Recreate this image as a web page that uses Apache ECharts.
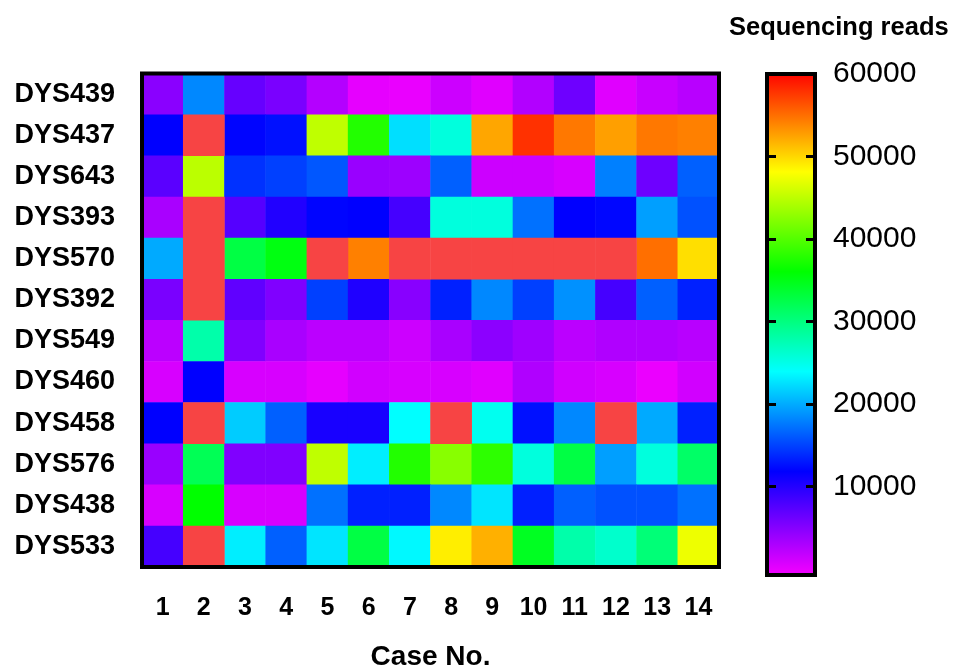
<!DOCTYPE html>
<html>
<head>
<meta charset="utf-8">
<script src="https://cdn.jsdelivr.net/npm/echarts@6/dist/echarts.min.js"></script>
<style>
  html, body { margin: 0; padding: 0; background: #fff; }
  #chart { width: 963px; height: 669px; }
</style>
</head>
<body>
<div id="chart"></div>
<script>
// ---- data ----
const cases = ['1','2','3','4','5','6','7','8','9','10','11','12','13','14'];
const markers = ['DYS439','DYS437','DYS643','DYS393','DYS570','DYS392','DYS549','DYS460','DYS458','DYS576','DYS438','DYS533'];
// sequencing reads per marker (rows) and case (columns); values above 60000 are off-scale
const readsDYS439 = [5000, 18400, 6800, 5800, 2850, 300, 100, 1630, 610, 2950, 6400, 610, 1830, 2640];
const readsDYS437 = [12000, 65000, 12200, 12750, 45000, 37600, 22500, 25600, 52200, 57700, 54350, 52500, 54350, 54000];
const readsDYS643 = [7400, 44800, 14300, 15000, 16100, 4200, 4000, 16500, 1630, 1630, 1080, 18000, 6400, 16500];
const readsDYS393 = [3400, 65000, 7700, 10300, 12200, 12000, 8500, 25600, 25600, 17300, 12000, 12300, 19500, 15800];
const readsDYS570 = [20000, 65000, 32800, 35200, 65000, 54000, 65000, 65000, 65000, 65000, 65000, 65000, 54800, 49500];
const readsDYS392 = [5800, 65000, 7100, 5500, 15000, 10400, 5100, 13500, 18400, 15000, 18800, 8500, 16500, 13500];
const readsDYS549 = [2500, 28000, 5500, 3400, 2500, 2500, 1630, 3400, 4900, 3900, 2500, 3050, 3050, 2640];
const readsDYS460 = [1080, 12000, 1080, 1080, 300, 1370, 1080, 1080, 600, 3050, 1420, 1080, 50, 1370];
const readsDYS458 = [12000, 65000, 21600, 16500, 10800, 10800, 24000, 65000, 24700, 12750, 18400, 65000, 20000, 13500];
const readsDYS576 = [4200, 32000, 5500, 5500, 45000, 23200, 37600, 42400, 38100, 25600, 32800, 19500, 25600, 31200];
const readsDYS438 = [1080, 36000, 1080, 1080, 17300, 13500, 13500, 18400, 22800, 13500, 16500, 15800, 15800, 17300];
const readsDYS533 = [8500, 65000, 23200, 16500, 22800, 32800, 23700, 48800, 51700, 34400, 28000, 26400, 30400, 47200];
const readsByMarker = [readsDYS439, readsDYS437, readsDYS643, readsDYS393, readsDYS570, readsDYS392,
                       readsDYS549, readsDYS460, readsDYS458, readsDYS576, readsDYS438, readsDYS533];
const scaleMin = 0;
const scaleMax = 60000;
const colorbarMin = -700;
const colorbarLabelValues = [10000, 20000, 30000, 40000, 50000, 60000];
const colorbarTickValues = [10000, 20000, 30000, 40000, 50000];
const paletteColors = ['#ec00ff', '#0000ff', '#00ffff', '#00ff00', '#ffff00', '#ff0000'];
const overRangeColor = '#f74444';

// ---- build ----
const inRange = [], overRange = [];
markers.forEach((m, r) => {
  readsByMarker[r].forEach((v, c) => {
    (v > scaleMax ? overRange : inRange).push([c, r, v]);
  });
});
const gradStops = [];
paletteColors.forEach((col, i) => {
  const v = scaleMin + (scaleMax - scaleMin) * i / (paletteColors.length - 1);
  gradStops.push({ offset: (v - colorbarMin) / (scaleMax - colorbarMin), color: col });
});
gradStops.unshift({ offset: 0, color: paletteColors[0] });

const FONT = "'Liberation Sans', Arial, Helvetica, sans-serif";
const chart = echarts.init(document.getElementById('chart'), null, { renderer: 'canvas' });
chart.setOption({
  backgroundColor: '#fff',
  animation: false,
  title: {
    text: 'Sequencing reads',
    left: 729, top: 15, padding: 0,
    textStyle: { fontFamily: FONT, fontSize: 25.5, fontWeight: 'bold', color: '#000' }
  },
  grid: [
    { left: 142, top: 73.5, width: 577, height: 493.5, show: true, z: 10,
      outerBoundsMode: 'none', containLabel: false,
      backgroundColor: 'transparent', borderColor: '#000', borderWidth: 4 },
    { left: 767, top: 74, width: 48, height: 501, show: true,
      outerBoundsMode: 'none', containLabel: false,
      backgroundColor: { type: 'linear', x: 0, y: 1, x2: 0, y2: 0, colorStops: gradStops },
      borderColor: '#000', borderWidth: 4 }
  ],
  xAxis: [
    { type: 'category', gridIndex: 0, data: cases,
      axisLine: { show: false }, axisTick: { show: false }, splitLine: { show: false },
      axisLabel: { fontFamily: FONT, fontSize: 25, fontWeight: 'bold', color: '#000', margin: 29 },
      name: 'Case No.', nameLocation: 'middle', nameGap: 76,
      nameTextStyle: { fontFamily: FONT, fontSize: 28, fontWeight: 'bold', color: '#000' } },
    { type: 'category', gridIndex: 1, show: false, data: [''] }
  ],
  yAxis: [
    { type: 'category', gridIndex: 0, data: markers, inverse: true,
      axisLine: { show: false }, axisTick: { show: false }, splitLine: { show: false },
      axisLabel: { fontFamily: FONT, fontSize: 27, fontWeight: 'bold', color: '#000', margin: 27 } },
    { type: 'value', gridIndex: 1, position: 'right', min: colorbarMin, max: scaleMax, z: 5,
      axisLine: { show: false, onZero: false }, splitLine: { show: false },
      axisTick: { show: true, inside: true, length: 9, customValues: colorbarTickValues,
                  lineStyle: { color: '#000', width: 3 } },
      axisLabel: { show: true, customValues: colorbarLabelValues, margin: 18,
                   formatter: v => String(v),
                   fontFamily: FONT, fontSize: 30, color: '#000' } },
    { type: 'value', gridIndex: 1, position: 'left', min: colorbarMin, max: scaleMax, z: 5,
      axisLine: { show: false, onZero: false }, splitLine: { show: false },
      axisTick: { show: true, inside: true, length: 9, customValues: colorbarTickValues,
                  lineStyle: { color: '#000', width: 3 } },
      axisLabel: { show: false } }
  ],
  visualMap: {
    type: 'continuous', show: false, seriesIndex: 0, dimension: 2,
    min: scaleMin, max: scaleMax,
    inRange: { color: paletteColors }
  },
  series: [
    { type: 'heatmap', xAxisIndex: 0, yAxisIndex: 0, data: inRange,
      emphasis: { disabled: true }, itemStyle: { borderWidth: 0 } },
    { type: 'heatmap', xAxisIndex: 0, yAxisIndex: 0, data: overRange,
      emphasis: { disabled: true }, itemStyle: { color: overRangeColor, borderWidth: 0 } }
  ]
});
</script>
</body>
</html>
